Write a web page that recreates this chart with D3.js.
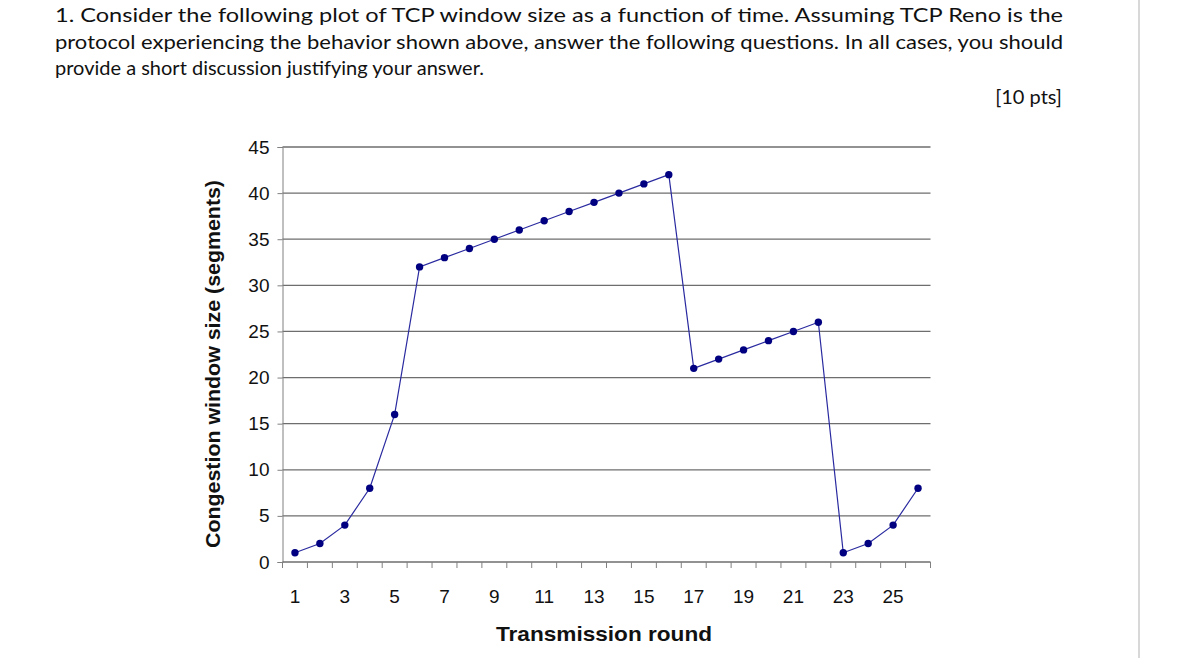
<!DOCTYPE html>
<html><head><meta charset="utf-8">
<script src="https://d3js.org/d3.v7.min.js"></script>
<style>body{margin:0;background:#fff}</style></head>
<body><svg id="c" width="1200" height="658"></svg>
<script>
const rounds = d3.range(1, 27);
const cwnd = [1,2,4,8,16,32,33,34,35,36,37,38,39,40,41,42,21,22,23,24,25,26,1,2,4,8];
const yTicks = [0,5,10,15,20,25,30,35,40,45];
const xLabels = [1,3,5,7,9,11,13,15,17,19,21,23,25];
const paragraph = [
 "1. Consider the following plot of TCP window size as a function of time. Assuming TCP Reno is the",
 "protocol experiencing the behavior shown above, answer the following questions. In all cases, you should",
 "provide a short discussion justifying your answer."
];
const svg = d3.select("#c");
svg.append("line").attr("x1",1139).attr("x2",1139).attr("y1",0).attr("y2",658).attr("stroke","#d8d8d8").attr("stroke-width",2);
const tf = "'Lato','Open Sans',sans-serif";
paragraph.forEach((t,i)=>{
  svg.append("text").attr("x",55).attr("y",22+i*26.5).text(t)
   .attr("font-family",tf).attr("font-size",20).attr("fill","#111")
   .attr("textLength", i<2?1008:null).attr("lengthAdjust","spacingAndGlyphs");
});
svg.append("text").attr("x",1062).attr("y",104).attr("text-anchor","end").text("[10 pts]")
  .attr("font-family",tf).attr("font-size",20).attr("fill","#111");

const L=282.5,R=930.5,T=147,B=562;
const x = d3.scaleBand().domain(rounds).range([L,R]);
const y = d3.scaleLinear().domain([0,45]).range([B,T]);
const af="'Liberation Sans',Arial,sans-serif";
svg.append("g").selectAll("line").data(yTicks.slice(1)).join("line")
 .attr("x1",L).attr("x2",R).attr("y1",d=>y(d)).attr("y2",d=>y(d)).attr("stroke","#6e6e6e").attr("stroke-width",1.3);
const ya = svg.append("g").attr("transform",`translate(${L},0)`).call(d3.axisLeft(y).tickValues(yTicks).tickSize(5).tickPadding(8));
ya.select(".domain").attr("stroke","#808080");
ya.selectAll("line").attr("stroke","#808080");
ya.selectAll("text").attr("font-family",af).attr("font-size",19).attr("fill","#111");
svg.append("line").attr("x1",L).attr("x2",R).attr("y1",B).attr("y2",B).attr("stroke","#6e6e6e").attr("stroke-width",1.3);
svg.append("g").selectAll("line").data(d3.range(27)).join("line")
 .attr("x1",i=>L+i*x.bandwidth()).attr("x2",i=>L+i*x.bandwidth()).attr("y1",B).attr("y2",B+6).attr("stroke","#808080");
svg.append("g").selectAll("text").data(xLabels).join("text")
 .attr("x",d=>x(d)+x.bandwidth()/2).attr("y",B+41).attr("text-anchor","middle").text(d=>d)
 .attr("font-family",af).attr("font-size",19).attr("fill","#111");
svg.append("text").attr("x",604).attr("y",641).attr("text-anchor","middle").text("Transmission round")
 .attr("font-family",af).attr("font-weight","bold").attr("font-size",21).attr("fill","#111")
 .attr("textLength",216).attr("lengthAdjust","spacingAndGlyphs");
svg.append("text").attr("transform",`translate(220,364) rotate(-90)`).attr("text-anchor","middle")
 .text("Congestion window size (segments)").attr("font-family",af).attr("font-weight","bold").attr("font-size",20).attr("fill","#111")
 .attr("textLength",368).attr("lengthAdjust","spacingAndGlyphs");
const pts = rounds.map((r,i)=>[x(r)+x.bandwidth()/2, y(cwnd[i])]);
svg.append("path").attr("d",d3.line()(pts)).attr("fill","none").attr("stroke","#2a2aa0").attr("stroke-width",1.2);
svg.append("g").selectAll("circle").data(pts).join("circle").attr("cx",d=>d[0]).attr("cy",d=>d[1]).attr("r",3.7).attr("fill","#000080");
</script></body></html>
